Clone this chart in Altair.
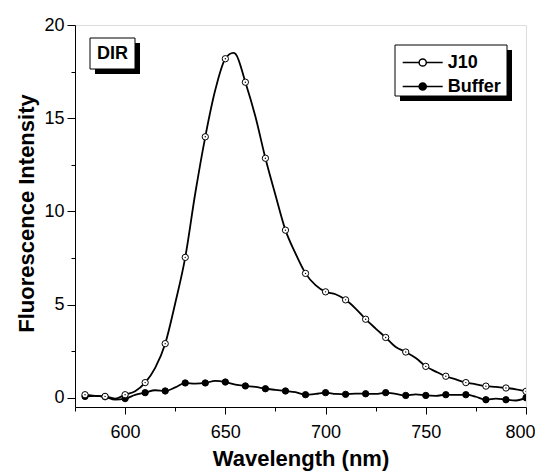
import altair as alt
import pandas as pd

# ---- data ----
marker_nm = [580, 590, 600, 610, 620, 630, 640, 650, 660, 670, 680, 690,
             700, 710, 720, 730, 740, 750, 760, 770, 780, 790, 800]
j10_marker = [0.16, 0.07, 0.16, 0.81, 2.9, 7.53, 14.0, 18.19, 16.93, 12.85, 8.99, 6.67,
              5.68, 5.25, 4.21, 3.23, 2.45, 1.68, 1.15, 0.81, 0.62, 0.52, 0.34]
buffer_marker = [0.07, 0.05, -0.05, 0.27, 0.36, 0.79, 0.79, 0.84, 0.63, 0.48, 0.36, 0.16,
                 0.27, 0.18, 0.21, 0.27, 0.12, 0.12, 0.16, 0.16, -0.11, -0.11, 0.0]

j10_mid_nm = [585, 595, 605, 615, 625, 635, 645, 654, 655, 665, 675, 685,
              695, 705, 715, 725, 735, 745, 755, 765, 775, 785, 795]
j10_mid = [0.1, -0.05, 0.35, 1.6, 5.07, 10.97, 16.52, 18.5, 18.46, 15.09, 10.88, 7.74,
           6.04, 5.55, 4.78, 3.71, 2.72, 2.13, 1.4, 0.98, 0.72, 0.58, 0.45]

buffer_mid_nm = [585, 595, 605, 615, 625, 635, 645, 655, 665, 675, 685,
                 695, 705, 715, 725, 735, 745, 755, 765, 775, 785, 795]
buffer_mid = [0.1, -0.1, 0.15, 0.4, 0.55, 0.75, 0.9, 0.7, 0.58, 0.42, 0.3,
              0.2, 0.2, 0.22, 0.2, 0.2, 0.18, 0.1, 0.15, 0.05, -0.05, -0.15]

series_names = ["J10", "Buffer"]
x_ticks = [575, 600, 625, 650, 675, 700, 725, 750, 775, 800]
y_ticks = [0, 2.5, 5, 7.5, 10, 12.5, 15, 17.5, 20]

rows = []
for nm, v in zip(marker_nm, j10_marker):
    rows.append(dict(nm=nm, val=v, series="J10", marker=True))
for nm, v in zip(j10_mid_nm, j10_mid):
    rows.append(dict(nm=nm, val=v, series="J10", marker=False))
for nm, v in zip(marker_nm, buffer_marker):
    rows.append(dict(nm=nm, val=v, series="Buffer", marker=True))
for nm, v in zip(buffer_mid_nm, buffer_mid):
    rows.append(dict(nm=nm, val=v, series="Buffer", marker=False))
df = pd.DataFrame(rows).sort_values(["series", "nm"]).reset_index(drop=True)
markers = df[df["marker"]]
j10_dots = markers[markers["series"] == "J10"]

FONT = "Liberation Sans"

xscale = alt.Scale(domain=[575, 800], nice=False, zero=False)
yscale = alt.Scale(domain=[-0.5, 20], nice=False, zero=False)

x_axis = alt.Axis(
    values=x_ticks,
    labelExpr="datum.value % 50 === 0 ? datum.label : ''",
    tickSize={"condition": {"test": "datum.value % 50 === 0", "value": 7}, "value": 4},
    format="d", grid=False,
    title="Wavelength (nm)", titleX=225.5, titleY=58, titleBaseline="alphabetic",
    titleFont=FONT, titleFontSize=22, titleFontWeight="bold", titleColor="black",
    labelFont=FONT, labelFontSize=18, labelColor="black", labelPadding=9,
    labelFlush=True, labelFlushOffset=9,
    domainColor="black", tickColor="black", labelOverlap=False,
)
y_axis = alt.Axis(
    values=y_ticks,
    labelExpr="datum.value % 5 === 0 ? datum.label : ''",
    tickSize={"condition": {"test": "datum.value % 5 === 0", "value": 8}, "value": 4},
    grid=False,
    title="Fluorescence Intensity", titleX=-42, titleY=188, titleAngle=270,
    titleAlign="center", titleBaseline="alphabetic",
    titleFont=FONT, titleFontSize=22, titleFontWeight="bold", titleColor="black",
    labelFont=FONT, labelFontSize=18, labelColor="black", labelPadding=3,
    domainColor="black", tickColor="black", labelFlush=False, labelOverlap=False,
)

X = alt.X("nm:Q", scale=xscale, axis=x_axis)
Y = alt.Y("val:Q", scale=yscale, axis=y_axis)

one = pd.DataFrame({"k": [0]})

def box(x1, x2, y1, y2, fill, stroke=None):
    kw = dict(fill=fill)
    if stroke:
        kw.update(stroke=stroke, strokeWidth=1)
    return alt.Chart(one).mark_rect(**kw).encode(
        x=alt.value(x1), x2=alt.value(x2), y=alt.value(y1), y2=alt.value(y2))

dir_shadow = box(20, 65, 18, 49, "black")
dir_box = box(15, 60, 13, 44, "white", "black")
dir_text = alt.Chart(one).mark_text(
    text="DIR", font=FONT, fontSize=18, fontWeight="bold", color="black",
    align="center", baseline="middle").encode(x=alt.value(37.5), y=alt.value(29))

leg_shadow = box(325, 437, 25, 76, "black")
leg_box = box(320, 432, 20, 71, "white", "black")

lines = alt.Chart(df).mark_line(color="black", strokeWidth=1.8,
                                interpolate="monotone", clip=True).encode(
    x=X, y=Y, detail="series:N", order="nm:Q")

# legend symbol: line through a circle (units scaled by sqrt(size)/2 = 10 px)
sym = ("M-2,0L-0.36,0M0.36,0L2,0"
       "M0.36,0A0.36,0.36,0,1,1,-0.36,0A0.36,0.36,0,1,1,0.36,0Z")

points = alt.Chart(markers).mark_point(
    shape="circle", filled=True, stroke="black", strokeWidth=1,
    size=40, opacity=1, clip=True).encode(
    x=X, y=Y,
    fill=alt.Fill("series:N",
                  scale=alt.Scale(domain=series_names, range=["white", "black"]),
                  legend=alt.Legend(
                      orient="none", legendX=336.7, legendY=26.5, title=None,
                      symbolType=sym, symbolSize=400,
                      symbolStrokeColor="black", symbolStrokeWidth=1.5,
                      labelFont=FONT, labelFontSize=18, labelFontWeight="bold",
                      labelColor="black", labelOffset=14,
                      rowPadding=4, padding=0)),
)

dots = alt.Chart(j10_dots).mark_circle(size=2, color="black", opacity=1,
                                       clip=True).encode(x=X, y=Y)

chart = alt.layer(
    dir_shadow, dir_box, dir_text, leg_shadow, leg_box, lines, points, dots
).properties(
    width=451, height=382,
    padding={"left": 67, "top": 17, "right": 9, "bottom": 64},
    autosize=alt.AutoSizeParams(type="none"),
).configure_view(stroke="black", strokeWidth=1).configure(background="white")

chart.save("out.html", embed_options={"renderer": "svg", "actions": False})
